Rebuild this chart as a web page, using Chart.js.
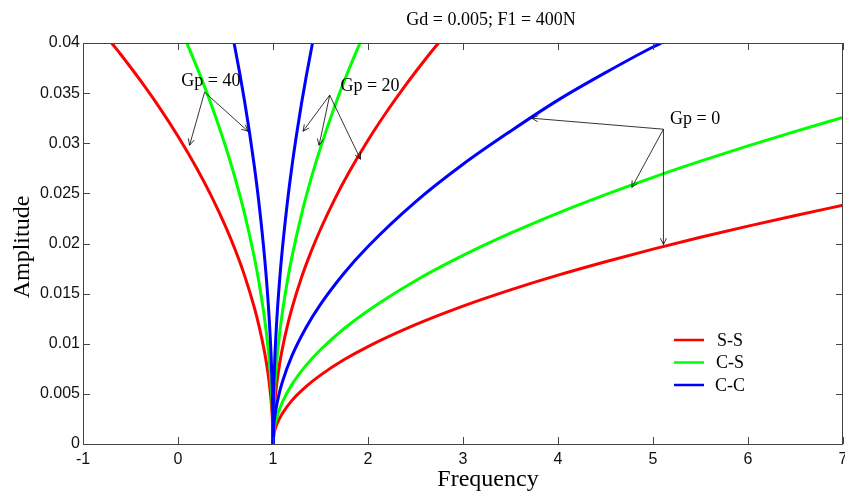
<!DOCTYPE html>
<html>
<head>
<meta charset="utf-8">
<script src="https://cdn.jsdelivr.net/npm/chart.js@4.4.0/dist/chart.umd.min.js"></script>
<style>
html,body{margin:0;padding:0;background:#ffffff;}
#wrap{width:845px;height:497px;position:relative;}
</style>
</head>
<body>
<div id="wrap"><canvas id="c" width="845" height="497"></canvas></div>
<script>
// ---------------- DATA ----------------
const chartTitle = 'Gd = 0.005; F1 = 400N';
const xTitle = 'Frequency';
const yTitle = 'Amplitude';

const freqTicks = [-1, 0, 1, 2, 3, 4, 5, 6, 7];
const freqTickLabels = ['-1', '0', '1', '2', '3', '4', '5', '6', '7'];
const ampTicks = [0, 0.005, 0.01, 0.015, 0.02, 0.025, 0.03, 0.035, 0.04];
const ampTickLabels = ['0', '0.005', '0.01', '0.015', '0.02', '0.025', '0.03', '0.035', '0.04'];

const seriesNames = ['S-S', 'C-S', 'C-C'];

// Gp = 40 (left branch)
const ssGp40Freq = [-0.698, -0.6, -0.4, -0.2, 0, 0.2, 0.35, 0.5, 0.6, 0.7, 0.8, 0.85, 0.9, 0.93, 0.96, 0.98, 0.99, 0.995, 1];
const ssGp40Amp  = [0.04, 0.03883, 0.03632, 0.03363, 0.0307, 0.02746, 0.02475, 0.02171, 0.01942, 0.01682, 0.01373, 0.01189, 0.00971, 0.00812, 0.00614, 0.00434, 0.00307, 0.00217, 0];
const csGp40Freq = [0.093, 0.2, 0.35, 0.5, 0.6, 0.7, 0.8, 0.85, 0.9, 0.93, 0.96, 0.98, 0.99, 0.995, 1];
const csGp40Amp  = [0.04, 0.03757, 0.03386, 0.0297, 0.02656, 0.023, 0.01878, 0.01627, 0.01328, 0.01111, 0.0084, 0.00594, 0.0042, 0.00297, 0];
const ccGp40Freq = [0.59, 0.65, 0.7, 0.75, 0.8, 0.85, 0.9, 0.93, 0.96, 0.98, 0.99, 0.995, 0.998, 1];
const ccGp40Amp  = [0.04, 0.03698, 0.03423, 0.03125, 0.02795, 0.02421, 0.01976, 0.01654, 0.0125, 0.00884, 0.00625, 0.00442, 0.0028, 0];

// Gp = 20 (steep right branch)
const ssGp20Freq = [1, 1.005, 1.01, 1.02, 1.04, 1.07, 1.1, 1.15, 1.2, 1.3, 1.4, 1.5, 1.65, 1.8, 2, 2.2, 2.4, 2.6, 2.742];
const ssGp20Amp  = [0, 0.00214, 0.00303, 0.00428, 0.00606, 0.00802, 0.00958, 0.01174, 0.01355, 0.0166, 0.01916, 0.02142, 0.02443, 0.0271, 0.0303, 0.03319, 0.03585, 0.03833, 0.04];
const csGp20Freq = [1, 1.005, 1.01, 1.02, 1.04, 1.07, 1.1, 1.15, 1.2, 1.3, 1.4, 1.5, 1.65, 1.8, 1.916];
const csGp20Amp  = [0, 0.00296, 0.00418, 0.00591, 0.00836, 0.01106, 0.01322, 0.01619, 0.01869, 0.02289, 0.02644, 0.02956, 0.0337, 0.03739, 0.04];
const ccGp20Freq = [1, 1.002, 1.005, 1.01, 1.02, 1.04, 1.07, 1.1, 1.15, 1.2, 1.25, 1.3, 1.35, 1.416];
const ccGp20Amp  = [0, 0.00277, 0.00438, 0.0062, 0.00877, 0.0124, 0.0164, 0.0196, 0.02401, 0.02773, 0.031, 0.03396, 0.03668, 0.04];

// Gp = 0 (moderate right branch)
const ssGp0Freq = [1, 1.01, 1.03, 1.06, 1.1, 1.2, 1.35, 1.5, 1.75, 2, 2.5, 3, 3.5, 4, 4.5, 5, 5.5, 6, 6.5, 7];
const ssGp0Amp  = [0, 0.00097, 0.00168, 0.00238, 0.00307, 0.00435, 0.00575, 0.00687, 0.00842, 0.00972, 0.0119, 0.01375, 0.01537, 0.01684, 0.01818, 0.01944, 0.02062, 0.02173, 0.0228, 0.02381];
const csGp0Freq = [1, 1.01, 1.03, 1.06, 1.1, 1.2, 1.35, 1.5, 1.75, 2, 2.5, 3, 3.5, 4, 4.5, 5, 5.5, 6, 6.5, 7];
const csGp0Amp  = [0, 0.00133, 0.0023, 0.00326, 0.00421, 0.00595, 0.00787, 0.0094, 0.01152, 0.0133, 0.01629, 0.01881, 0.02103, 0.02304, 0.02488, 0.0266, 0.02821, 0.02974, 0.03119, 0.03258];
const ccGp0Freq = [1, 1.01, 1.03, 1.06, 1.1, 1.2, 1.35, 1.5, 1.75, 2, 2.5, 3, 3.5, 4, 4.5, 5, 5.09];
const ccGp0Amp  = [0, 0.00197, 0.00341, 0.00483, 0.00623, 0.00881, 0.01165, 0.01393, 0.01706, 0.0197, 0.02415, 0.0279, 0.0312, 0.0343, 0.03704, 0.0396, 0.04];

// Annotations (data coordinates)
const annoLabels = ['Gp = 40', 'Gp = 20', 'Gp = 0'];
const annoLabelX = [0.035, 1.71, 5.18];
const annoLabelY = [0.0362, 0.0357, 0.0324];
const annoFromX = [0.28, 1.597, 5.11];
const annoFromY = [0.0351, 0.0348, 0.0314];
const annoTipX = [[0.122, 0.737], [1.316, 1.485, 1.921], [3.723, 4.777, 5.11]];
const annoTipY = [[0.0298, 0.0312], [0.0312, 0.0298, 0.0284], [0.0325, 0.0256, 0.0199]];

// ---------------- CHART ----------------
const RED = '#ff0000', GREEN = '#00ff00', BLUE = '#0000ff';
const seriesColors = [RED, GREEN, BLUE];
const serif = '"Liberation Serif", "Times New Roman", serif';
const sans = '"Liberation Sans", Arial, Helvetica, sans-serif';

function mk(label, color, f, a) {
  return {
    label: label,
    data: f.map((x, i) => ({ x: x, y: a[i] })),
    borderColor: color,
    backgroundColor: color,
    borderWidth: 3,
    pointRadius: 0,
    pointHoverRadius: 0,
    fill: false,
    cubicInterpolationMode: 'monotone',
    clip: 0
  };
}

// first dataset drawn on top -> blue first
const datasets = [
  mk('C-C', BLUE, ccGp40Freq, ccGp40Amp),
  mk('C-C', BLUE, ccGp20Freq, ccGp20Amp),
  mk('C-C', BLUE, ccGp0Freq, ccGp0Amp),
  mk('C-S', GREEN, csGp40Freq, csGp40Amp),
  mk('C-S', GREEN, csGp20Freq, csGp20Amp),
  mk('C-S', GREEN, csGp0Freq, csGp0Amp),
  mk('S-S', RED, ssGp40Freq, ssGp40Amp),
  mk('S-S', RED, ssGp20Freq, ssGp20Amp),
  mk('S-S', RED, ssGp0Freq, ssGp0Amp)
];

function drawArrow(ctx, x1, y1, x2, y2) {
  ctx.beginPath();
  ctx.moveTo(x1, y1);
  ctx.lineTo(x2, y2);
  ctx.stroke();
  const ang = Math.atan2(y2 - y1, x2 - x1);
  const L = 7, w = 0.45;
  ctx.beginPath();
  ctx.moveTo(x2 - L * Math.cos(ang - w), y2 - L * Math.sin(ang - w));
  ctx.lineTo(x2, y2);
  ctx.lineTo(x2 - L * Math.cos(ang + w), y2 - L * Math.sin(ang + w));
  ctx.stroke();
}

const decorPlugin = {
  id: 'decor',
  afterDraw(chart) {
    const ctx = chart.ctx;
    const xs = chart.scales.x, ys = chart.scales.y;
    const a = chart.chartArea;
    ctx.save();
    // box
    ctx.strokeStyle = '#444444';
    ctx.lineWidth = 1;
    ctx.strokeRect(a.left + 0.5, a.top + 0.5, a.right - a.left - 1, a.bottom - a.top);
    // inward ticks
    const TL = 7;
    ctx.beginPath();
    freqTicks.forEach(v => {
      const px = Math.round(xs.getPixelForValue(v)) + 0.5;
      ctx.moveTo(px, a.bottom); ctx.lineTo(px, a.bottom - TL);
      ctx.moveTo(px, a.top); ctx.lineTo(px, a.top + TL);
    });
    ampTicks.forEach(v => {
      const py = Math.round(ys.getPixelForValue(v)) + 0.5;
      ctx.moveTo(a.left, py); ctx.lineTo(a.left + TL, py);
      ctx.moveTo(a.right, py); ctx.lineTo(a.right - TL, py);
    });
    ctx.stroke();

    // annotations
    ctx.strokeStyle = '#000000';
    ctx.fillStyle = '#000000';
    ctx.lineWidth = 0.8;
    annoLabels.forEach((t, i) => {
      const fx = xs.getPixelForValue(annoFromX[i]);
      const fy = ys.getPixelForValue(annoFromY[i]);
      annoTipX[i].forEach((tx, j) => {
        drawArrow(ctx, fx, fy, xs.getPixelForValue(tx), ys.getPixelForValue(annoTipY[i][j]));
      });
      ctx.font = '18px ' + serif;
      ctx.textAlign = 'left';
      ctx.textBaseline = 'middle';
      ctx.fillText(t, xs.getPixelForValue(annoLabelX[i]), ys.getPixelForValue(annoLabelY[i]));
    });

    // legend
    const lx0 = a.left + 591, lx1 = a.left + 621, tx = a.left + 647;
    const ly0 = a.top + 297, dy = 22.5;
    seriesNames.forEach((n, i) => {
      const y = ly0 + i * dy;
      ctx.strokeStyle = seriesColors[i];
      ctx.lineWidth = 2.5;
      ctx.beginPath(); ctx.moveTo(lx0, y); ctx.lineTo(lx1, y); ctx.stroke();
      ctx.fillStyle = '#000000';
      ctx.font = '18px ' + serif;
      ctx.textAlign = 'center';
      ctx.textBaseline = 'middle';
      ctx.fillText(n, tx, y + 1);
    });

    // titles
    ctx.fillStyle = '#000000';
    ctx.font = '18px ' + serif;
    ctx.textAlign = 'center';
    ctx.textBaseline = 'middle';
    ctx.fillText(chartTitle, 491, 20);
    ctx.font = '24px ' + serif;
    ctx.fillText(xTitle, 488, 480);
    ctx.save();
    ctx.translate(23, 247);
    ctx.rotate(-Math.PI / 2);
    ctx.fillText(yTitle, 0, 0);
    ctx.restore();
    ctx.restore();
  }
};

new Chart(document.getElementById('c'), {
  type: 'line',
  data: { datasets: datasets },
  options: {
    responsive: false,
    animation: false,
    devicePixelRatio: 1,
    layout: { padding: { top: 43, right: 2, bottom: 0, left: 0 } },
    plugins: { legend: { display: false }, title: { display: false }, tooltip: { enabled: false } },
    events: [],
    scales: {
      x: {
        type: 'linear',
        min: -1, max: 7,
        grid: { display: true, drawOnChartArea: false, drawTicks: false },
        border: { display: false },
        afterBuildTicks: s => { s.ticks = freqTicks.map(v => ({ value: v })); },
        afterFit: s => { s.height = 53; s.paddingLeft = 0; s.paddingRight = 0; },
        ticks: {
          padding: 6,
          color: '#111111',
          font: { family: sans, size: 16 },
          maxRotation: 0,
          autoSkip: false,
          callback: (v, i) => freqTickLabels[i]
        }
      },
      y: {
        type: 'linear',
        min: 0, max: 0.04,
        grid: { display: true, drawOnChartArea: false, drawTicks: false },
        border: { display: false },
        afterBuildTicks: s => { s.ticks = ampTicks.map(v => ({ value: v })); },
        afterFit: s => { s.width = 83; s.paddingTop = 0; s.paddingBottom = 0; },
        ticks: {
          padding: 3,
          color: '#111111',
          font: { family: sans, size: 16 },
          autoSkip: false,
          callback: (v, i) => ampTickLabels[i]
        }
      }
    }
  },
  plugins: [decorPlugin]
});
</script>
</body>
</html>
